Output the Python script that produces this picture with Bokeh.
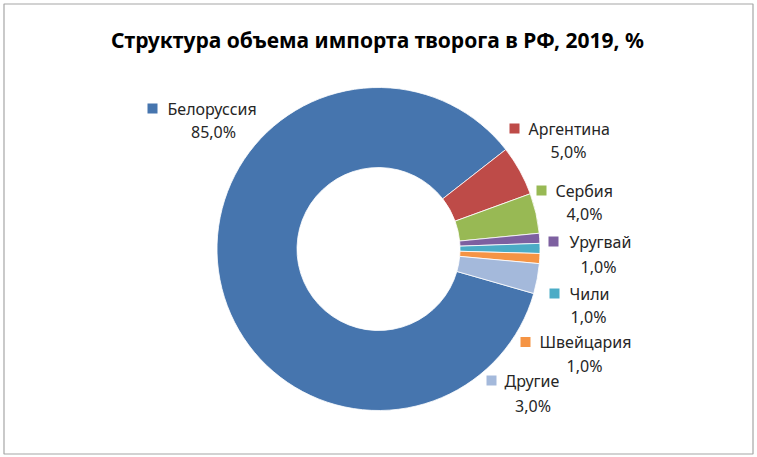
from bokeh.plotting import figure
from bokeh.models import Range1d
from bokeh.embed import file_html
from bokeh.resources import INLINE
from bokeh.core.properties import value

# ---- data ----
countries = ["Белоруссия", "Аргентина", "Сербия", "Уругвай", "Чили", "Швейцария", "Другие"]
shares = [85.0, 5.0, 4.0, 1.0, 1.0, 1.0, 3.0]
title_text = "Структура объема импорта творога в РФ, 2019, %"

# ---- style ----
colors = ["#4675AE", "#BE4B48", "#98B954", "#7D60A0", "#4BACC6", "#F59444", "#A4B9DB"]
W, H = 757, 457
cx, cy = 378, 248.5           # pixel coords (top-left origin)
r_out, r_in = 161.5, 81.5
first_angle = 106.0           # degrees clockwise from 12 o'clock

# label layout (pixel coords, top-left origin)
key_left = [147, 509, 536, 548, 549, 520, 486]
key_cy = [108, 128, 190, 241, 293, 341.5, 380]
text_left = [167, 528, 555, 569, 569, 539, 504]
pct_cx = [213, 568, 584, 598, 588, 584, 532.5]
pct_cy = [131, 151, 213, 266, 316, 365, 405]

FONT = "Noto Sans"

p = figure(width=W, height=H, x_range=Range1d(0, W), y_range=Range1d(0, H),
           x_axis_type=None, y_axis_type=None, toolbar_location=None,
           output_backend="svg", min_border=0, outline_line_color=None,
           background_fill_color="white", border_fill_color="white")
p.grid.visible = False

total = sum(shares)
starts, ends = [], []
cum = 0.0
for v in shares:
    th0 = first_angle + cum / total * 360.0
    cum += v
    th1 = first_angle + cum / total * 360.0
    starts.append(90.0 - th0)
    ends.append(90.0 - th1)

n = len(shares)
p.annular_wedge(x=[cx] * n, y=[H - cy] * n, inner_radius=r_in, outer_radius=r_out,
                start_angle=starts, end_angle=ends, start_angle_units="deg",
                end_angle_units="deg", direction="clock",
                fill_color=colors, line_color="white", line_width=0.8)

# legend keys
p.rect(x=[k + 5 for k in key_left], y=[H - c for c in key_cy], width=10, height=10,
       fill_color=colors, line_color=None)

p.text(x=text_left, y=[H - c for c in key_cy], text=countries,
       text_align="left", text_baseline="middle", text_font=value(FONT),
       text_font_size="16px", text_color="#262626")

pct_labels = [f"{v:.1f}".replace(".", ",") + "%" for v in shares]
p.text(x=pct_cx, y=[H - c for c in pct_cy], text=pct_labels,
       text_align="center", text_baseline="middle", text_font=value(FONT),
       text_font_size="16px", text_color="#262626")

# title
p.text(x=[377], y=[H - 39], text=[title_text], text_align="center",
       text_baseline="middle", text_font=value(FONT), text_font_style="bold",
       text_font_size="21px", text_color="#000000")

# frame
p.quad(left=[3.5], right=[752.5], bottom=[H - 453.5], top=[H - 3.5],
       fill_color=None, line_color="#A6A6A6", line_width=1.2)

open("out.html", "w").write(file_html(p, INLINE))
